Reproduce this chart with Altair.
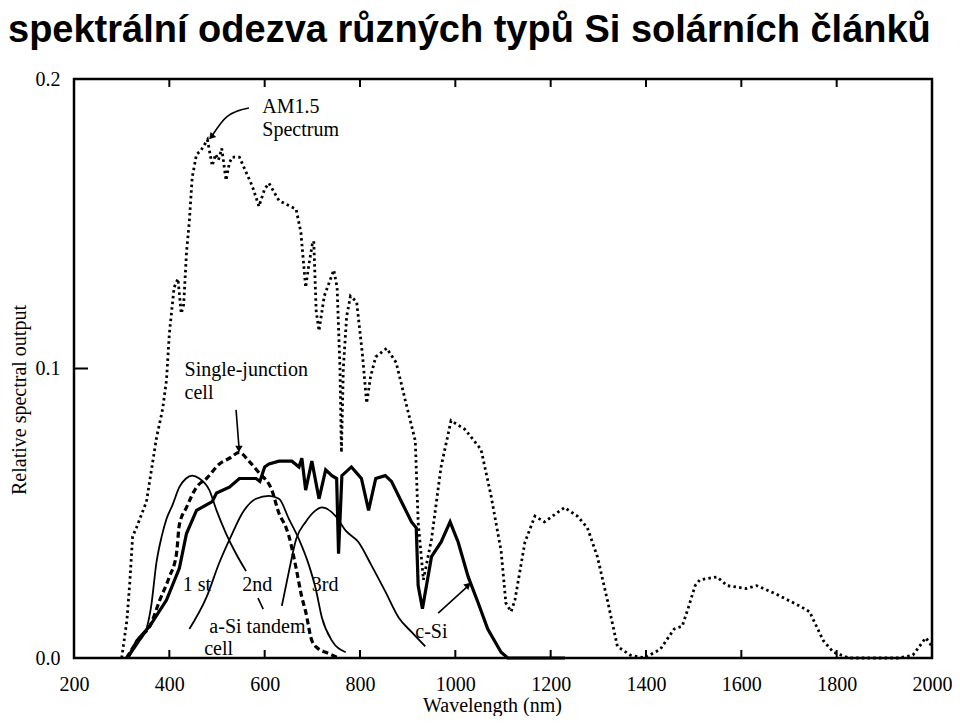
import altair as alt
import pandas as pd

TITLE = "spektrální odezva různých typů Si solárních článků"

# AM1.5 spectrum (dotted)
am_nm = [300, 311, 317, 323, 331, 352, 373, 386, 394, 400, 410, 418, 425, 430, 436, 442, 448, 457, 465, 480,
         490, 497, 503, 510, 519, 526, 532, 547, 574, 588, 600, 609, 630, 666, 676, 686, 692, 700, 703, 708,
         714, 725, 745, 752, 758, 761, 765, 772, 780, 793, 805, 814, 822, 833, 856, 876, 895, 916, 922, 933,
         950, 970, 991, 1020, 1054, 1075, 1096, 1106, 1117, 1125, 1146, 1167, 1187, 1229, 1256, 1277, 1298,
         1319, 1340, 1367, 1396, 1430, 1459, 1476, 1490, 1503, 1513, 1549, 1570, 1611, 1632, 1674, 1722,
         1743, 1772, 1793, 1826, 1931, 1960, 1987, 2000]
am_val = [0.000, 0.013, 0.026, 0.042, 0.045, 0.054, 0.076, 0.086, 0.096, 0.112, 0.128, 0.131, 0.119, 0.122,
          0.140, 0.151, 0.166, 0.174, 0.175, 0.179, 0.170, 0.174, 0.172, 0.176, 0.165, 0.171, 0.173, 0.173,
          0.163, 0.156, 0.162, 0.164, 0.158, 0.155, 0.147, 0.128, 0.135, 0.143, 0.144, 0.120, 0.113, 0.125,
          0.134, 0.128, 0.100, 0.071, 0.100, 0.118, 0.125, 0.123, 0.105, 0.088, 0.097, 0.104, 0.107, 0.102,
          0.089, 0.075, 0.047, 0.027, 0.041, 0.066, 0.082, 0.079, 0.072, 0.056, 0.037, 0.019, 0.016, 0.020,
          0.040, 0.049, 0.047, 0.052, 0.049, 0.045, 0.035, 0.020, 0.004, 0.001, 0.000, 0.003, 0.010, 0.011,
          0.018, 0.025, 0.027, 0.028, 0.025, 0.024, 0.025, 0.022, 0.018, 0.016, 0.006, 0.002, 0.000, 0.000,
          0.001, 0.007, 0.004]

# single-junction a-Si cell (thick dashed)
sj_nm = [310, 338, 359, 380, 400, 415, 421, 436, 457, 478, 505, 526, 547, 567, 588, 615, 630, 645, 651, 666,
         678, 686, 699, 714, 728, 755]
sj_val = [0.000, 0.007, 0.011, 0.020, 0.028, 0.036, 0.046, 0.052, 0.059, 0.062, 0.067, 0.069, 0.071, 0.068,
          0.064, 0.058, 0.050, 0.045, 0.042, 0.031, 0.021, 0.016, 0.006, 0.003, 0.002, 0.000]

# c-Si cell (thick solid)
cs_nm = [313, 332, 359, 394, 421, 436, 457, 490, 499, 526, 547, 582, 590, 600, 609, 630, 657, 672, 678, 686,
         699, 714, 728, 741, 751, 755, 762, 782, 803, 818, 833, 853, 866, 887, 908, 918, 922, 931, 950, 970,
         989, 1006, 1027, 1048, 1068, 1096, 1110, 1230]
cs_val = [0.000, 0.006, 0.011, 0.020, 0.031, 0.043, 0.051, 0.054, 0.057, 0.059, 0.062, 0.062, 0.061, 0.066,
          0.067, 0.068, 0.068, 0.066, 0.069, 0.058, 0.068, 0.055, 0.065, 0.063, 0.062, 0.036, 0.063, 0.066,
          0.062, 0.051, 0.062, 0.063, 0.061, 0.054, 0.047, 0.045, 0.025, 0.017, 0.035, 0.040, 0.047, 0.040,
          0.028, 0.019, 0.010, 0.002, 0.000, 0.000]

# a-Si tandem cell, 1st / 2nd / 3rd junction (thin solid)
t1_nm = [313, 338, 352, 362, 373, 384, 394, 407, 421, 435, 448, 463, 484, 499, 519, 540, 561]
t1_val = [0.000, 0.006, 0.010, 0.018, 0.033, 0.042, 0.048, 0.053, 0.059, 0.062, 0.063, 0.062, 0.058, 0.051,
          0.043, 0.036, 0.030]
t2_nm = [442, 478, 505, 532, 553, 582, 609, 630, 651, 672, 693, 707, 720, 741, 770]
t2_val = [0.010, 0.021, 0.033, 0.043, 0.050, 0.055, 0.056, 0.055, 0.048, 0.041, 0.032, 0.024, 0.014, 0.006,
          0.002]
t3_nm = [636, 651, 666, 686, 707, 720, 749, 770, 797, 824, 853, 881, 908, 937]
t3_val = [0.018, 0.030, 0.041, 0.047, 0.051, 0.052, 0.049, 0.044, 0.040, 0.032, 0.023, 0.014, 0.009, 0.004]

x_ticks = [200, 400, 600, 800, 1000, 1200, 1400, 1600, 1800, 2000]
y_ticks = [0.0, 0.1, 0.2]

# annotations (data units)
ann_text = ["AM1.5", "Spectrum", "Single-junction", "cell", "1 st", "2nd", "3rd", "a-Si tandem", "cell", "c-Si"]
ann_nm = [595, 595, 432, 432, 428, 553, 699, 484, 473, 916]
ann_val = [0.1903, 0.1824, 0.0995, 0.0915, 0.0252, 0.0252, 0.0252, 0.0107, 0.0030, 0.0090]

arrow_id = ["am", "am", "am", "sj", "sj", "cs", "cs", "lead", "lead"]
arrow_nm = [567, 521, 490, 540, 546, 964, 1024, 586, 597]
arrow_val = [0.190, 0.187, 0.1805, 0.0857, 0.073, 0.0155, 0.0245, 0.0207, 0.0169]
head_nm = [488, 546, 1027]
head_val = [0.180, 0.0722, 0.0252]
head_angle = [221, 180, 47]

W, H = 858, 579
SERIF = "Liberation Serif"

xs = alt.Scale(domain=[200, 2000], nice=False, zero=False)
ys = alt.Scale(domain=[0, 0.2], nice=False, zero=False)

xax = alt.Axis(values=x_ticks, title=None, format="d", labelFont=SERIF, labelFontSize=20, labelColor="black",
               ticks=False, domain=False, grid=False, labelPadding=16, labelFlush=False, labelOverlap=False)
yax = alt.Axis(values=y_ticks, title=None, format=".1f", labelFont=SERIF, labelFontSize=20, labelColor="black",
               ticks=False, domain=False, grid=False, labelPadding=14, labelFlush=False, labelOverlap=False)


def line(nm, val, **kw):
    df = pd.DataFrame({"nm": nm, "v": val})
    return alt.Chart(df).mark_line(color="black", **kw).encode(
        x=alt.X("nm:Q", scale=xs, axis=xax),
        y=alt.Y("v:Q", scale=ys, axis=yax),
    )


am = line(am_nm, am_val, strokeWidth=2.8, strokeDash=[2.5, 3.2], strokeCap="butt")
sj = line(sj_nm, sj_val, strokeWidth=3.2, strokeDash=[6, 3.5], interpolate="monotone")
cs = line(cs_nm, cs_val, strokeWidth=3.2)
t1 = line(t1_nm, t1_val, strokeWidth=1.8, interpolate="monotone")
t2 = line(t2_nm, t2_val, strokeWidth=1.8, interpolate="monotone")
t3 = line(t3_nm, t3_val, strokeWidth=1.8, interpolate="monotone")

frame = alt.Chart(pd.DataFrame({"k": [0]})).mark_rect(
    fillOpacity=0, stroke="black", strokeWidth=2.5).encode(
    x=alt.value(0), x2=alt.value(W), y=alt.value(0), y2=alt.value(H))

inner = pd.DataFrame({"nm": x_ticks[1:-1]})
bt = alt.Chart(inner).mark_rule(color="black", strokeWidth=2).encode(
    x=alt.X("nm:Q", scale=xs), y=alt.value(H), y2=alt.value(H - 8))
tt = alt.Chart(inner).mark_rule(color="black", strokeWidth=2).encode(
    x=alt.X("nm:Q", scale=xs), y=alt.value(0), y2=alt.value(8))
lt = alt.Chart(pd.DataFrame({"v": [y_ticks[1]]})).mark_rule(color="black", strokeWidth=2).encode(
    y=alt.Y("v:Q", scale=ys), x=alt.value(0), x2=alt.value(14))

ann = alt.Chart(pd.DataFrame({"t": ann_text, "nm": ann_nm, "v": ann_val})).mark_text(
    font=SERIF, fontSize=20, align="left", baseline="middle", color="black").encode(
    x=alt.X("nm:Q", scale=xs), y=alt.Y("v:Q", scale=ys), text="t:N")

arr = alt.Chart(pd.DataFrame({"id": arrow_id, "nm": arrow_nm, "v": arrow_val})).mark_line(
    color="black", strokeWidth=1.6, interpolate="monotone").encode(
    x=alt.X("nm:Q", scale=xs), y=alt.Y("v:Q", scale=ys), detail="id:N")
heads = alt.Chart(pd.DataFrame({"nm": head_nm, "v": head_val, "a": head_angle})).mark_point(
    shape="triangle-up", filled=True, color="black", size=55, opacity=1).encode(
    x=alt.X("nm:Q", scale=xs), y=alt.Y("v:Q", scale=ys), angle=alt.Angle("a:Q", scale=None))

title = alt.Chart(pd.DataFrame({"t": [TITLE]})).mark_text(
    font="Liberation Sans", fontWeight="bold", fontSize=38, align="left", baseline="alphabetic",
    color="black").encode(x=alt.value(-66), y=alt.value(-37), text="t:N")
ytitle = alt.Chart(pd.DataFrame({"t": ["Relative spectral output"]})).mark_text(
    font=SERIF, fontSize=20, angle=270, align="center", baseline="middle", color="black").encode(
    x=alt.value(-54), y=alt.value(321), text="t:N")
xtitle = alt.Chart(pd.DataFrame({"t": ["Wavelength (nm)"]})).mark_text(
    font=SERIF, fontSize=20, align="left", baseline="middle", color="black").encode(
    x=alt.value(349), y=alt.value(627), text="t:N")

chart = alt.layer(am, sj, cs, t1, t2, t3, frame, bt, tt, lt, arr, heads, ann, title, ytitle, xtitle).properties(
    width=W, height=H,
    autosize=alt.AutoSizeParams(type="none"),
    padding={"left": 66, "top": 71, "right": 20, "bottom": 58},
).configure(background="white").configure_view(strokeWidth=0)

chart.save("out.html", embed_options={"renderer": "svg", "actions": False})
